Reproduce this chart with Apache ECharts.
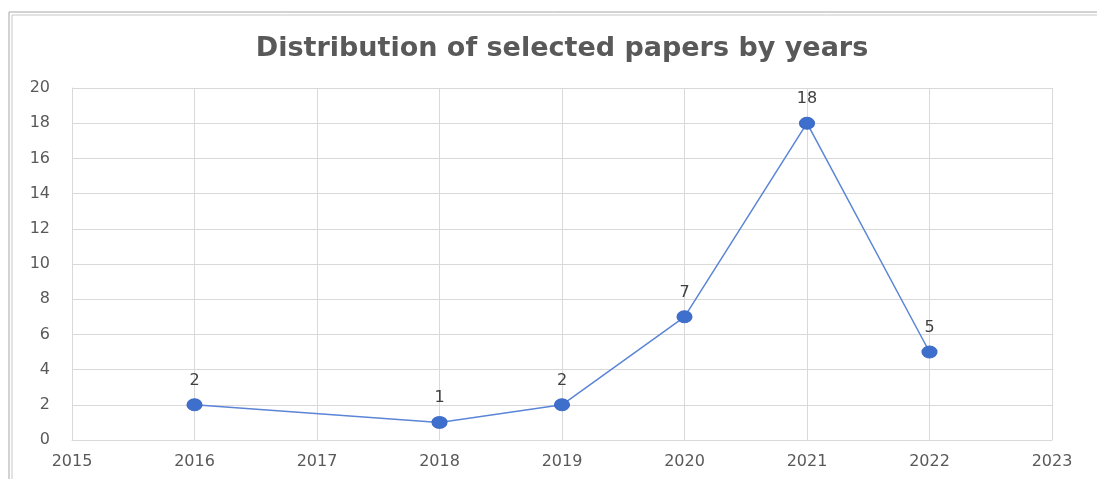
<!DOCTYPE html>
<html><head><meta charset="utf-8">
<script src="https://cdn.jsdelivr.net/npm/echarts@6/dist/echarts.min.js"></script>
<style>html,body{margin:0;padding:0;background:#fff}#c{width:1097px;height:479px}</style>
</head><body><div id="c"></div>
<script>
const years = [2016, 2018, 2019, 2020, 2021, 2022];
const papers = [2, 1, 2, 7, 18, 5];
const title = 'Distribution of selected papers by years';

const chart = echarts.init(document.getElementById('c'), null, {renderer: 'canvas'});
chart.setOption({
  backgroundColor: '#fff',
  animation: false,
  title: {
    text: title, left: 557, top: 30, textAlign: 'center',
    textStyle: {fontFamily: 'DejaVu Sans', fontWeight: 'bold', fontSize: 27, color: '#595959'}
  },
  graphic: [
    {type: 'rect', shape: {x: 9, y: 12, width: 1200, height: 600}, style: {fill: 'none', stroke: '#a6a6a6', lineWidth: 1}},
    {type: 'rect', shape: {x: 12, y: 15, width: 1200, height: 600}, style: {fill: 'none', stroke: '#c8c8c8', lineWidth: 1}}
  ],
  grid: {left: 72, right: 45, top: 88, bottom: 39},
  xAxis: {
    type: 'value', min: 2015, max: 2023, interval: 1,
    axisLine: {show: true, lineStyle: {color: '#d9d9d9', width: 1}},
    axisTick: {show: false},
    splitLine: {show: true, lineStyle: {color: '#d9d9d9'}},
    axisLabel: {color: '#595959', fontSize: 16, fontFamily: 'DejaVu Sans', margin: 14, formatter: v => String(v)}
  },
  yAxis: {
    type: 'value', min: 0, max: 20, interval: 2,
    axisLine: {show: true, lineStyle: {color: '#d9d9d9'}},
    axisTick: {show: false},
    splitLine: {show: true, lineStyle: {color: '#d9d9d9'}},
    axisLabel: {color: '#595959', fontSize: 16, fontFamily: 'DejaVu Sans', margin: 22}
  },
  series: [{
    type: 'line',
    data: years.map((y, i) => [y, papers[i]]),
    symbol: 'circle', symbolSize: [15, 12],
    lineStyle: {color: '#5b85d6', width: 1.5},
    itemStyle: {color: '#3f6fcc', borderColor: '#3a68c4', borderWidth: 1},
    label: {show: true, position: 'top', distance: 10, color: '#404040', fontSize: 16, fontFamily: 'DejaVu Sans'}
  }]
});
</script></body></html>
